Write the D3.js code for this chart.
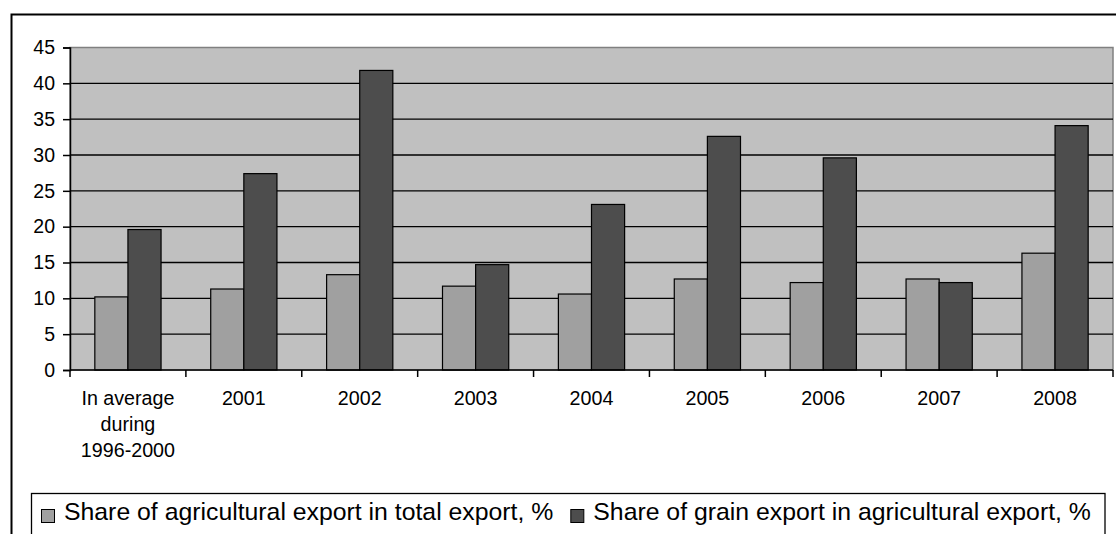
<!DOCTYPE html>
<html>
<head>
	<meta charset="utf-8">
	<title>Agricultural and grain export shares</title>
	<script src="https://d3js.org/d3.v7.min.js"></script>
	<style>
		body {
			margin: 0;
			padding: 0;
			overflow: hidden;
			background: white;
		}

		text {
			font-family: "Liberation Sans", Arial, sans-serif;
			fill: black;
		}
	</style>
</head>
<body>
	<script>
		// values
		var categories = ["In average during 1996-2000", "2001", "2002", "2003", "2004", "2005", "2006", "2007", "2008"];
		var categoryLines = [["In average", "during", "1996-2000"], ["2001"], ["2002"], ["2003"], ["2004"], ["2005"], ["2006"], ["2007"], ["2008"]];
		var seriesNames = ["Share of agricultural export in total export, %", "Share of grain export in agricultural export, %"];
		var agriShare = [10.2, 11.3, 13.3, 11.7, 10.6, 12.7, 12.2, 12.7, 16.3];
		var grainShare = [19.6, 27.4, 41.8, 14.7, 23.1, 32.6, 29.6, 12.2, 34.1];
		var yTicks = [0, 5, 10, 15, 20, 25, 30, 35, 40, 45];
		var colors = ["#a0a0a0", "#4d4d4d"];

		var width = 1116,
			height = 534;
		var plot = {left: 70, right: 1113, top: 47.5, bottom: 370};

		var svg = d3.select("body").append("svg")
			.attr("width", width)
			.attr("height", height);

		// outer chart frame (runs off the right and bottom of the picture)
		svg.append("rect")
			.attr("x", 11.5).attr("y", 14.5)
			.attr("width", width + 20).attr("height", height + 20)
			.attr("fill", "white")
			.attr("stroke", "black")
			.attr("stroke-width", 2);

		var y = d3.scaleLinear().domain([0, 45]).range([plot.bottom, plot.top]);
		var x0 = d3.scaleBand().domain(categories).range([plot.left, plot.right]).padding(0);
		var bw = x0.bandwidth();
		// excel style gap width 150%
		var x1 = d3.scaleBand().domain([0, 1]).range([bw * 0.75 / 3.5, bw * 2.75 / 3.5]).padding(0);

		// plot area
		svg.append("rect")
			.attr("x", plot.left).attr("y", plot.top)
			.attr("width", plot.right - plot.left).attr("height", plot.bottom - plot.top)
			.attr("fill", "#c0c0c0")
			.attr("stroke", "#808080")
			.attr("stroke-width", 1.5);

		svg.append("g").selectAll("line")
			.data(yTicks.filter((d) => d > 0 && d < 45))
			.enter().append("line")
			.attr("x1", plot.left).attr("x2", plot.right)
			.attr("y1", (d) => y(d)).attr("y2", (d) => y(d))
			.attr("stroke", "black")
			.attr("stroke-width", 1.3);

		// bars
		var groups = svg.append("g").selectAll("g")
			.data(categories)
			.enter().append("g")
			.attr("transform", (d) => "translate(" + x0(d) + ",0)");

		groups.selectAll("rect")
			.data((d, i) => [agriShare[i], grainShare[i]])
			.enter().append("rect")
			.attr("x", (d, j) => x1(j))
			.attr("y", (d) => y(d))
			.attr("width", x1.bandwidth())
			.attr("height", (d) => y(0) - y(d))
			.attr("fill", (d, j) => colors[j])
			.attr("stroke", "black")
			.attr("stroke-width", 1.2);

		// y axis
		var yAxis = d3.axisLeft(y).tickValues(yTicks).tickSize(7).tickPadding(8);
		var gy = svg.append("g")
			.attr("transform", "translate(" + plot.left + ",0)")
			.call(yAxis);
		gy.select(".domain").attr("stroke", "black").attr("stroke-width", 1.5);
		gy.selectAll(".tick line").attr("stroke", "black").attr("stroke-width", 1.5);
		gy.selectAll(".tick text")
			.style("font-family", "'Liberation Sans', Arial, sans-serif")
			.style("font-size", "19.5px")
			.attr("fill", "black");

		// x axis: ticks between categories
		var boundaries = categories.map((c) => x0(c)).concat([plot.right]);
		svg.append("line")
			.attr("x1", plot.left).attr("x2", plot.right)
			.attr("y1", plot.bottom).attr("y2", plot.bottom)
			.attr("stroke", "black").attr("stroke-width", 1.5);
		svg.append("g").selectAll("line")
			.data(boundaries)
			.enter().append("line")
			.attr("x1", (d) => d).attr("x2", (d) => d)
			.attr("y1", plot.bottom).attr("y2", plot.bottom + 7)
			.attr("stroke", "black").attr("stroke-width", 1.5);

		var labels = svg.append("g").selectAll("text")
			.data(categories)
			.enter().append("text")
			.attr("x", (d) => x0(d) + bw / 2)
			.attr("y", 405)
			.attr("text-anchor", "middle")
			.style("font-size", "19.7px");
		labels.selectAll("tspan")
			.data((d, i) => categoryLines[i])
			.enter().append("tspan")
			.attr("x", function() { return d3.select(this.parentNode).attr("x"); })
			.attr("dy", (d, k) => k == 0 ? 0 : 26)
			.text((d) => d);

		// legend
		svg.append("rect")
			.attr("x", 31.5).attr("y", 493.5)
			.attr("width", 1105 - 31.5).attr("height", 60)
			.attr("fill", "white")
			.attr("stroke", "black")
			.attr("stroke-width", 1.3);

		var lx = 41;
		seriesNames.forEach((name, i) => {
			svg.append("rect")
				.attr("x", lx + 0.5).attr("y", 509.5)
				.attr("width", 13).attr("height", 13)
				.attr("fill", colors[i])
				.attr("stroke", "black")
				.attr("stroke-width", 1);
			var t = svg.append("text")
				.attr("x", lx + 23)
				.attr("y", 520)
				.style("font-size", "24.8px")
				.text(name);
			lx = lx + 23 + t.node().getComputedTextLength() + 17;
		});
	</script>
</body>
</html>
